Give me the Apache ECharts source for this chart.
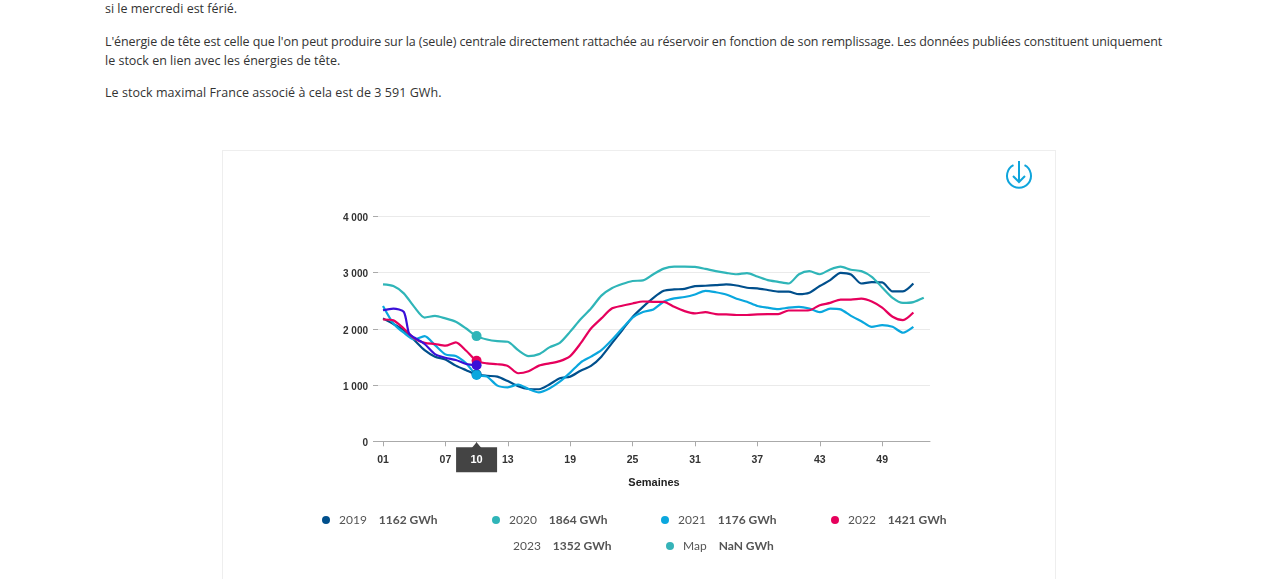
<!DOCTYPE html>
<html lang="fr">
<head>
<meta charset="utf-8">
<title>Stock hydraulique</title>
<script src="https://cdn.jsdelivr.net/npm/echarts@6/dist/echarts.min.js"></script>
<style>
    html, body { margin: 0; height: 100%; overflow: hidden; background: #fff; }
    p {
        position: absolute;
        left: 105px;
        margin: 0;
        font: 12.5px/19px "Open Sans", sans-serif;
        color: #333;
        white-space: nowrap;
    }
    #card {
        position: absolute;
        left: 222px;
        top: 150px;
        width: 832px;
        height: 500px;
        border: 1px solid #eee;
    }
    #container { position: absolute; left: 0; top: 0; width: 1280px; height: 579px; }
    #download { position: absolute; left: 1004px; top: 159px; }
</style>
</head>
<body>
<p style="top:-1px">si le mercredi est férié.</p>
<p style="top:32px;letter-spacing:-0.107px">L'énergie de tête est celle que l'on peut produire sur la (seule) centrale directement rattachée au réservoir en fonction de son remplissage. Les données publiées constituent uniquement</p>
<p style="top:51px">le stock en lien avec les énergies de tête.</p>
<p style="top:83px;letter-spacing:0.05px">Le stock maximal France associé à cela est de 3 591 GWh.</p>
<div id="card"></div>
<div id="container"></div>
<svg id="download" width="30" height="32" viewBox="0 0 30 32" fill="none" stroke="#0fa5dc" stroke-width="2">
    <path d="M9.5 6.2 A12 12 0 1 0 20.5 6.2"/>
    <path d="M15 2 V23 M9 17 L15 23 L21 17"/>
</svg>
<script>
const weeks = Array.from({ length: 53 }, (_, i) => i + 1);
const weeks2023 = [1, 2, 3, 3.5, 4, 5, 6, 7, 8, 9, 10];
const tickWeeks = [1, 7, 10, 13, 19, 25, 31, 37, 43, 49];
const currentWeek = 10;
const yTicks = { min: 0, max: 4000, interval: 1000 };

const v2019 = [2185, 2085, 1975, 1800, 1620, 1505, 1455, 1345, 1265, 1190, 1165, 1150, 1070, 980, 930, 925, 1010, 1120, 1150, 1255, 1340, 1505, 1740, 1975, 2210, 2390, 2550, 2675, 2700, 2710, 2760, 2765, 2775, 2790, 2770, 2730, 2720, 2690, 2660, 2660, 2615, 2640, 2760, 2865, 2995, 2965, 2805, 2830, 2825, 2665, 2665, 2805];
const v2020 = [2790, 2760, 2630, 2390, 2200, 2230, 2185, 2125, 2005, 1870, 1810, 1780, 1770, 1620, 1515, 1550, 1670, 1750, 1950, 2170, 2360, 2590, 2720, 2795, 2850, 2860, 2970, 3070, 3105, 3105, 3100, 3065, 3025, 2995, 2970, 2990, 2930, 2865, 2835, 2805, 2970, 3025, 2970, 3055, 3105, 3050, 3025, 2925, 2735, 2550, 2460, 2475, 2550];
const v2021 = [2405, 2095, 1930, 1810, 1870, 1710, 1545, 1515, 1385, 1178, 1150, 990, 960, 1010, 930, 870, 940, 1060, 1220, 1400, 1505, 1620, 1800, 2005, 2200, 2300, 2345, 2480, 2540, 2565, 2610, 2675, 2650, 2610, 2535, 2480, 2405, 2375, 2350, 2375, 2390, 2360, 2295, 2360, 2345, 2230, 2135, 2035, 2065, 2035, 1930, 2035];
const v2022 = [2165, 2150, 2005, 1830, 1750, 1730, 1700, 1760, 1610, 1430, 1385, 1370, 1340, 1210, 1245, 1345, 1385, 1425, 1515, 1740, 2005, 2185, 2360, 2410, 2450, 2485, 2480, 2480, 2390, 2315, 2275, 2295, 2260, 2255, 2245, 2245, 2255, 2260, 2260, 2325, 2325, 2330, 2420, 2460, 2520, 2520, 2535, 2485, 2375, 2215, 2155, 2290];
const v2023 = [2330, 2360, 2300, 1918, 1845, 1730, 1550, 1485, 1445, 1375, 1352];

const seriesNames = ['2019', '2020', '2021', '2022', '2023', 'Map'];
const seriesValues = [v2019, v2020, v2021, v2022, v2023, []];
const seriesWeeks = [weeks, weeks, weeks, weeks, weeks2023, weeks];
const seriesColors = ['#004f8c', '#2fb5b8', '#0aa7de', '#e6005c', '#3a10d8', '#35b3b8'];
const legendValues = ['1162', '1864', '1176', '1421', '1352', 'NaN'];
const legendLeft = [322, 492, 661, 831, 496, 666];
const legendTop = [514, 514, 514, 514, 540, 540];

const chart = echarts.init(document.getElementById('container'));

const series = seriesNames.map((name, i) => ({
    name,
    type: 'line',
    smooth: 0.25,
    showAllSymbol: true,
    symbol: (value) => (value[0] === currentWeek ? 'circle' : 'none'),
    symbolSize: 10,
    silent: true,
    lineStyle: { width: 2.2, color: seriesColors[i] },
    itemStyle: { color: seriesColors[i] },
    data: seriesValues[i].map((v, k) => [seriesWeeks[i][k], v]),
}));

// little notch on top of the current week box
series[4].markPoint = {
    silent: true,
    animation: false,
    data: [{ coord: [currentWeek, 0], symbol: 'triangle', symbolSize: [10, 6], symbolOffset: [0, 4], itemStyle: { color: '#444' } }],
    label: { show: false },
};

const legends = seriesNames.map((name, i) => ({
    left: legendLeft[i],
    top: legendTop[i],
    padding: 0,
    selectedMode: false,
    itemWidth: 8,
    itemHeight: 8,
    data: [{
        name,
        icon: 'circle',
        itemStyle: { color: seriesColors[i], opacity: name === '2023' ? 0 : 1 },
    }],
    formatter: () => `{a|${name}}{b|${legendValues[i]} GWh}`,
    textStyle: {
        rich: {
            a: { fontFamily: 'Lato', fontSize: 12, color: '#555', padding: [0, 12, 0, 4] },
            b: { fontFamily: 'Lato', fontSize: 12, fontWeight: 'bold', color: '#555' },
        },
    },
}));

chart.setOption({
    animation: false,
    grid: { left: 378, right: 350, top: 216.3, bottom: 137.7 },
    legend: legends,
    xAxis: {
        type: 'value',
        min: 0.52,
        max: 53.6,
        splitLine: { show: false },
        axisLine: { lineStyle: { color: '#aaa' } },
        axisTick: { length: 5, lineStyle: { color: '#aaa' }, customValues: tickWeeks },
        axisLabel: {
            customValues: tickWeeks,
            margin: 6,
            formatter: (v) => {
                const text = String(v).padStart(2, '0');
                return v === currentWeek ? `{cur|${text}}` : `{n|${text}}`;
            },
            rich: {
                n: { height: 25, lineHeight: 25, fontFamily: 'Liberation Sans', fontSize: 10.5, fontWeight: 'bold', color: '#333' },
                cur: { width: 41, height: 25, lineHeight: 25, align: 'center', backgroundColor: '#444', fontFamily: 'Liberation Sans', fontSize: 11, fontWeight: 'bold', color: '#fff' },
            },
        },
        name: 'Semaines',
        nameLocation: 'middle',
        nameGap: 36,
        nameTextStyle: { fontFamily: 'Liberation Sans', fontSize: 11, fontWeight: 'bold', color: '#222' },
    },
    yAxis: {
        type: 'value',
        min: yTicks.min,
        max: yTicks.max,
        interval: yTicks.interval,
        axisLine: { show: false },
        axisTick: { show: true, length: 5, lineStyle: { color: '#aaa' } },
        splitLine: { lineStyle: { color: '#eaeaea' } },
        axisLabel: {
            margin: 10,
            formatter: (v) => `{n|${String(v).replace(/\B(?=(\d{3})+$)/g, ' ')}}`,
            rich: {
                n: { padding: [4, 0, 0, 0], fontFamily: 'Liberation Sans', fontSize: 10, fontWeight: 'bold', color: '#333' },
            },
        },
    },
    series,
});
</script>
</body>
</html>
